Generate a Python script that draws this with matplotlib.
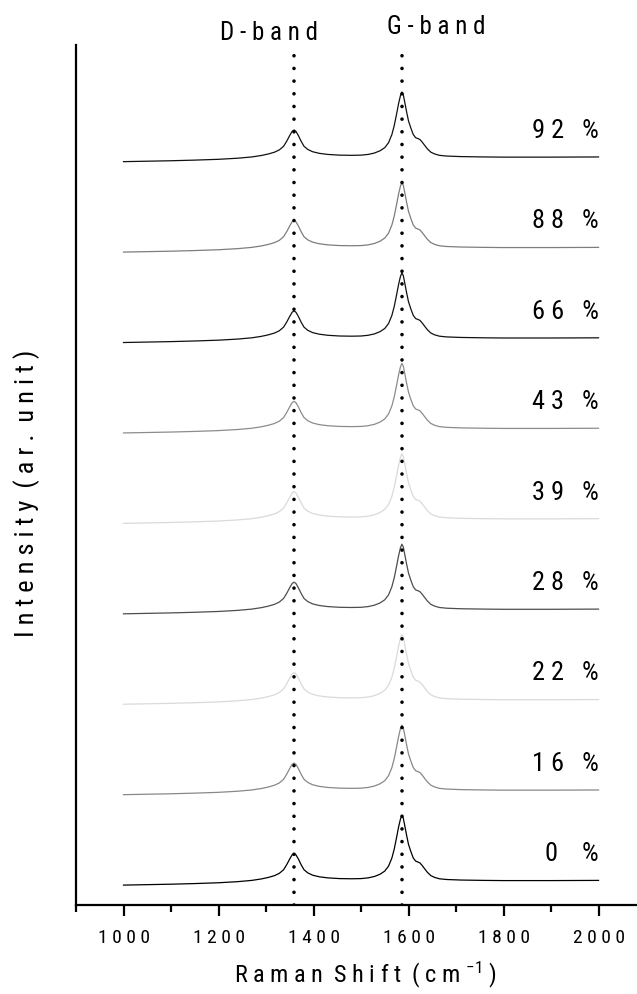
import numpy as np
import matplotlib
matplotlib.use("Agg")
import matplotlib.pyplot as plt
from matplotlib import font_manager as fm
from matplotlib.ticker import MultipleLocator, FixedLocator
import matplotlib.transforms as mtransforms

# Raman shift (cm-1) and relative intensity of the common spectral profile
shift = [1000, 1050, 1100, 1150, 1200, 1240, 1270, 1290, 1305, 1318, 1328,
         1337, 1344, 1350, 1355, 1359, 1363, 1368, 1374, 1380, 1388, 1398,
         1412, 1430, 1455, 1480, 1500, 1515, 1528, 1540, 1550, 1558, 1565,
         1570, 1575, 1579, 1583, 1586, 1589, 1592, 1596, 1600, 1605, 1610,
         1615, 1620, 1624, 1629, 1634, 1640, 1647, 1655, 1665, 1680, 1710,
         1760, 1800, 1900, 2000]
profile = [0.0, 0.005, 0.01, 0.017, 0.026, 0.038, 0.052, 0.068, 0.085, 0.105,
           0.13, 0.17, 0.23, 0.29, 0.335, 0.35, 0.335, 0.29, 0.225, 0.17,
           0.135, 0.11, 0.092, 0.08, 0.072, 0.07, 0.072, 0.08, 0.095, 0.12,
           0.155, 0.21, 0.30, 0.40, 0.53, 0.64, 0.73, 0.77, 0.74, 0.66, 0.55,
           0.45, 0.37, 0.30, 0.265, 0.255, 0.245, 0.215, 0.18, 0.14, 0.105,
           0.085, 0.07, 0.062, 0.056, 0.052, 0.05, 0.05, 0.052]

# samples from bottom to top
labels = ["0", "16", "22", "28", "39", "43", "66", "88", "92"]
colors = ["#000000", "#888888", "#dadada", "#4d4d4d", "#dadada",
          "#8c8c8c", "#111111", "#7d7d7d", "#111111"]
offsets = [0, 1, 2, 3, 4, 5, 6, 7, 8]

d_band = 1358
g_band = 1586

# pick a narrow sans face if one is installed
narrow = None
for key in ("LiberationSansNarrow-Regular", "RobotoCondensed-Regular",
            "DejaVuSansCondensed.", "OpenSans_Condensed-Regular",
            "NotoSans-Condensed", "OpenSans-CondensedLight"):
    for f in fm.fontManager.ttflist:
        if key in f.fname:
            narrow = f
            break
    if narrow is not None:
        break

if narrow is not None:
    plt.rcParams['font.family'] = [narrow.name, 'DejaVu Sans']
    plt.rcParams['font.stretch'] = narrow.stretch
else:
    plt.rcParams['font.family'] = ['Liberation Sans', 'DejaVu Sans']
plt.rcParams['mathtext.default'] = 'regular'


def spaced(s):
    return " ".join(s)


def pct_label(v):
    if len(v) == 1:
        return v + "    %"
    return spaced(v) + "   %"


fig = plt.figure(figsize=(6.37, 9.94), dpi=100)
ax = fig.add_axes([76 / 637, 1 - 905 / 994, 1 - 76 / 637, 860 / 994])

x = np.array(shift)
y = np.array(profile)
for off, lab, col in zip(offsets, labels, colors):
    ax.plot(x, y + off, color=col, lw=0.9)
    ax.text(2000, off + 0.34, pct_label(lab),
            ha='right', va='center', fontsize=19)

for pos in (d_band, g_band):
    ax.axvline(pos, color='black', lw=2.6, linestyle=(0, (0.01, 3.5)),
               dash_capstyle='round')

ax.set_xlim(900, 2081)
ax.set_ylim(-0.22, 9.29)

ax.spines['top'].set_visible(False)
ax.spines['right'].set_visible(False)
ax.spines['left'].set_linewidth(1.6)
ax.spines['bottom'].set_linewidth(1.6)
ax.set_yticks([])

major = [1000, 1200, 1400, 1600, 1800, 2000]
ax.xaxis.set_major_locator(FixedLocator(major))
ax.xaxis.set_minor_locator(MultipleLocator(100))
ax.set_xticklabels([spaced(str(v)) for v in major], fontsize=14)
ax.tick_params(axis='x', which='major', direction='out', length=8, width=1.6, pad=9)
ax.tick_params(axis='x', which='minor', direction='out', length=5, width=1.6)

trans = mtransforms.blended_transform_factory(ax.transData, ax.transAxes)
ax.text(1307, 1.014, "D - b a n d", transform=trans, ha='center', va='center',
        fontsize=18, clip_on=False)
ax.text(1658, 1.021, "G - b a n d", transform=trans, ha='center', va='center',
        fontsize=18, clip_on=False)

fig.text(365 / 637, 1 - 975 / 994, "R a m a n  S h i f t  ( c m $^{- 1}$ )",
         ha='center', va='center', fontsize=17.5)
fig.text(27 / 637, 1 - 493 / 994, "I n t e n s i t y  ( a r .  u n i t )",
         ha='center', va='center', rotation=90, fontsize=19)

fig.savefig("out.png", dpi=100)
